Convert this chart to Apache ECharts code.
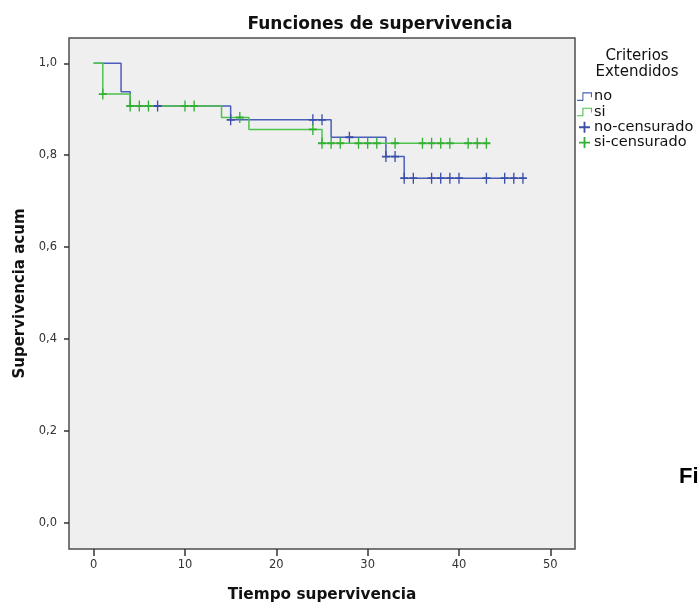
<!DOCTYPE html>
<html>
<head>
<meta charset="utf-8">
<script src="https://cdn.jsdelivr.net/npm/echarts@6/dist/echarts.min.js"></script>
<style>
  html, body { margin: 0; padding: 0; background: #fff; }
  #chart { width: 698px; height: 605px; }
</style>
</head>
<body>
<div id="chart"></div>
<script>
// curvas de Kaplan-Meier (tiempo, supervivencia acumulada)
const noCurve = [[0, 1], [3, 0.938], [4, 0.907], [15, 0.877], [26, 0.839], [32, 0.797], [34, 0.750], [47, 0.750]];
const siCurve = [[0, 1], [1, 0.933], [4, 0.907], [14, 0.882], [17, 0.856], [25, 0.826], [43, 0.826]];

// casos censurados
const noCensored = [[7, 0.907], [15, 0.877], [24, 0.877], [25, 0.877], [28, 0.839], [32, 0.797], [33, 0.797],
  [34, 0.750], [35, 0.750], [37, 0.750], [38, 0.750], [39, 0.750], [40, 0.750], [43, 0.750], [45, 0.750], [46, 0.750], [47, 0.750]];
const siCensored = [[1, 0.933], [4, 0.907], [5, 0.907], [6, 0.907], [10, 0.907], [11, 0.907], [16, 0.882], [24, 0.856],
  [25, 0.826], [26, 0.826], [27, 0.826], [29, 0.826], [30, 0.826], [31, 0.826], [33, 0.826], [36, 0.826], [37, 0.826],
  [38, 0.826], [39, 0.826], [41, 0.826], [42, 0.826], [43, 0.826]];

// marcas de los ejes
const xTickValues = [0, 10, 20, 30, 40, 50];
const yTickValues = [0, 0.2, 0.4, 0.6, 0.8, 1];

const blueLine = '#4a5fba';
const greenLine = '#4cc24c';
const blueMark = '#3a4fa8';
const greenMark = '#33b033';
const plus = 'path://M25,0 H35 V25 H60 V35 H35 V60 H25 V35 H0 V25 H25 Z';
const step = 'path://M0,16 H10 V2 H28 V11 H26 V4 H12 V18 H0 Z';
const font = 'DejaVu Sans';

const chart = echarts.init(document.getElementById('chart'));

chart.setOption({
  animation: false,
  title: {
    text: 'Funciones de supervivencia',
    left: 375,
    textAlign: 'center',
    top: 11,
    textStyle: { fontFamily: font, fontWeight: 'bold', fontSize: 17, color: '#111' },
  },
  legend: {
    orient: 'vertical',
    left: 577,
    top: 89,
    padding: 0,
    itemWidth: 15,
    itemHeight: 11,
    itemGap: 0,
    textStyle: { fontFamily: font, fontSize: 14.5, lineHeight: 15.3, color: '#111', padding: [0, 0, 0, -3] },
    data: [
      { name: 'no', icon: step, itemStyle: { color: blueLine } },
      { name: 'si', icon: step, itemStyle: { color: greenLine } },
      { name: 'no-censurado', icon: plus, itemStyle: { color: blueMark } },
      { name: 'si-censurado', icon: plus, itemStyle: { color: greenMark } },
    ],
  },
  graphic: [
    {
      type: 'text',
      x: 637,
      y: 48,
      style: {
        text: 'Criterios\nExtendidos',
        fontFamily: font,
        fontSize: 15,
        lineHeight: 16,
        fill: '#111',
        align: 'center',
      },
    },
    {
      type: 'text',
      x: 679,
      y: 466,
      style: { text: 'Fi', fontFamily: 'Liberation Sans', fontWeight: 'bold', fontSize: 22, fill: '#000' },
    },
  ],
  grid: {
    left: 69, right: 123, top: 38, bottom: 56,
    outerBoundsMode: 'none',
    containLabel: false,
    show: true, backgroundColor: '#efefef', borderColor: '#4d4d4d', borderWidth: 1.5,
  },
  xAxis: {
    type: 'value',
    min: -2.7,
    max: 52.7,
    name: 'Tiempo supervivencia',
    nameLocation: 'middle',
    nameGap: 39,
    nameTextStyle: { fontFamily: font, fontWeight: 'bold', fontSize: 15.3, color: '#111' },
    axisLine: { show: false, onZero: false },
    axisTick: { show: true, length: 7, customValues: xTickValues, lineStyle: { color: '#333', width: 1.5 } },
    axisLabel: { fontFamily: font, fontSize: 11.5, color: '#333', margin: 10, customValues: xTickValues },
    splitLine: { show: false },
  },
  yAxis: {
    type: 'value',
    min: -0.057,
    max: 1.055,
    name: 'Supervivencia acum',
    nameLocation: 'middle',
    nameGap: 41,
    nameTextStyle: { fontFamily: font, fontWeight: 'bold', fontSize: 15, color: '#111' },
    axisLine: { show: false, onZero: false },
    axisTick: { show: true, length: 5, customValues: yTickValues, lineStyle: { color: '#333', width: 1.5 } },
    axisLabel: {
      fontFamily: font,
      fontSize: 11.5,
      color: '#333',
      margin: 12,
      customValues: yTickValues,
      formatter: (v) => v.toFixed(1).replace('.', ','),
    },
    splitLine: { show: false },
  },
  series: [
    {
      name: 'no',
      type: 'line',
      step: 'end',
      data: noCurve,
      symbol: 'none',
      lineStyle: { color: blueLine, width: 1.5 },
      itemStyle: { color: blueLine },
      z: 3,
    },
    {
      name: 'si',
      type: 'line',
      step: 'end',
      data: siCurve,
      symbol: 'none',
      lineStyle: { color: greenLine, width: 1.5 },
      itemStyle: { color: greenLine },
      z: 4,
    },
    {
      name: 'no-censurado',
      type: 'scatter',
      data: noCensored,
      symbol: plus,
      symbolSize: [8, 11],
      itemStyle: { color: blueMark, opacity: 1 },
      z: 5,
    },
    {
      name: 'si-censurado',
      type: 'scatter',
      data: siCensored,
      symbol: plus,
      symbolSize: [8, 11],
      itemStyle: { color: greenMark, opacity: 1 },
      z: 6,
    },
  ],
});
</script>
</body>
</html>
